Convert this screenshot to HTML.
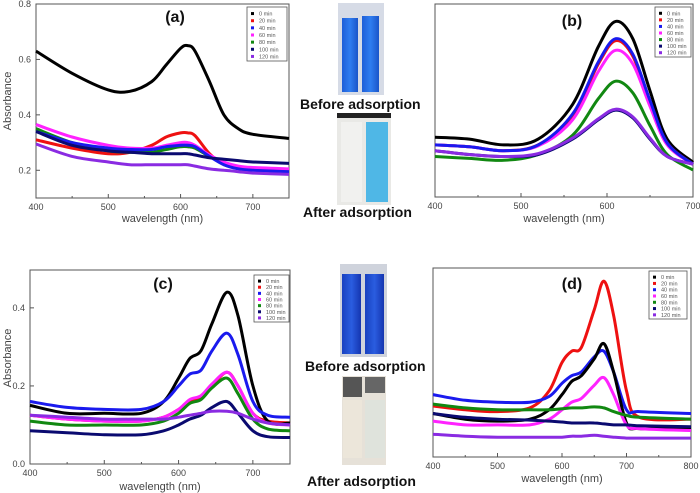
<!DOCTYPE html>
<html><head><meta charset="utf-8"><style>
body{margin:0;background:#fff;width:700px;height:493px;overflow:hidden;font-family:"Liberation Sans",sans-serif}
svg{position:absolute;left:0;top:0}
.cap{position:absolute;font-family:"Liberation Sans",sans-serif;font-weight:bold;font-size:14px;color:#111;white-space:nowrap}
</style></head><body>
<svg id="fig" width="700" height="493">
<defs>
<linearGradient id="blueL" x1="0" x2="1"><stop offset="0" stop-color="#1e5ed8"/><stop offset="0.5" stop-color="#2f7df0"/><stop offset="1" stop-color="#1b55c9"/></linearGradient>
<linearGradient id="blueD" x1="0" x2="1"><stop offset="0" stop-color="#1840c0"/><stop offset="0.5" stop-color="#2a5de0"/><stop offset="1" stop-color="#1535b0"/></linearGradient>
</defs>
<g>
<rect x="338" y="3" width="46" height="92" fill="#d6dbe6"/>
<rect x="342" y="18" width="16" height="74" fill="url(#blueL)"/>
<rect x="362" y="16" width="17" height="76" fill="url(#blueL)"/>
</g>
<g>
<rect x="337" y="113" width="54" height="92" fill="#e9e9e6"/>
<rect x="337" y="113" width="54" height="5" fill="#222"/>
<rect x="341" y="122" width="21" height="80" fill="#f1f1ef"/>
<rect x="366" y="122" width="22" height="80" fill="#4fb7e6"/>
</g>
<g>
<rect x="340" y="264" width="47" height="93" fill="#cfd3dc"/>
<rect x="342" y="274" width="19" height="80" fill="url(#blueD)"/>
<rect x="365" y="274" width="19" height="80" fill="url(#blueD)"/>
</g>
<g>
<rect x="342" y="376" width="44" height="89" fill="#e6e1d8"/>
<rect x="343" y="377" width="19" height="20" fill="#555"/>
<rect x="365" y="377" width="20" height="16" fill="#666"/>
<rect x="343" y="400" width="19" height="58" fill="#ece6da"/>
<rect x="365" y="400" width="20" height="58" fill="#dfe3dc"/>
</g>
<g id="plots"></g>
</svg>
<div class="cap" style="left:300px;top:96px">Before adsorption</div>
<div class="cap" style="left:303px;top:204px">After adsorption</div>
<div class="cap" style="left:305px;top:358px">Before adsorption</div>
<div class="cap" style="left:307px;top:473px">After adsorption</div>
<script>
const legendLabels=["0 min","20 min","40 min","60 min","80 min","100 min","120 min"];
const seriesColors=["#000000","#ee1111","#1a1aee","#ff22ff","#118811","#0a0a70","#8a2be2"];
// panel a
const wlA=[400,450,500,530,560,580,600,610,620,640,660,680,700,750];
const a0=[0.63,0.55,0.49,0.485,0.52,0.58,0.64,0.65,0.63,0.52,0.40,0.35,0.33,0.315];
const a20=[0.31,0.28,0.26,0.265,0.29,0.32,0.335,0.335,0.325,0.26,0.22,0.21,0.205,0.20];
const a40=[0.34,0.30,0.28,0.275,0.275,0.285,0.29,0.29,0.285,0.25,0.22,0.205,0.20,0.195];
const a60=[0.365,0.32,0.29,0.28,0.28,0.29,0.30,0.30,0.29,0.255,0.23,0.215,0.21,0.205];
const a80=[0.35,0.30,0.27,0.265,0.265,0.275,0.285,0.285,0.28,0.25,0.225,0.21,0.205,0.20];
const a100=[0.34,0.29,0.27,0.265,0.26,0.26,0.26,0.26,0.255,0.245,0.24,0.235,0.23,0.225];
const a120=[0.295,0.25,0.23,0.22,0.22,0.22,0.22,0.22,0.215,0.205,0.20,0.195,0.19,0.185];
const xTicksA=[400,500,600,700];
const yTicksA=[0.2,0.4,0.6,0.8];
// panel b
const wlB=[400,440,480,520,560,590,610,630,650,670,700];
const b0=[0.31,0.30,0.27,0.30,0.48,0.78,0.91,0.82,0.55,0.30,0.18];
const b20=[0.27,0.26,0.24,0.27,0.42,0.69,0.81,0.73,0.49,0.28,0.17];
const b40=[0.27,0.26,0.24,0.27,0.43,0.70,0.82,0.74,0.50,0.28,0.17];
const b60=[0.27,0.26,0.24,0.265,0.40,0.65,0.76,0.69,0.47,0.27,0.17];
const b80=[0.21,0.20,0.19,0.22,0.32,0.51,0.60,0.54,0.37,0.22,0.14];
const b100=[0.24,0.22,0.21,0.22,0.30,0.40,0.45,0.41,0.30,0.21,0.17];
const b120=[0.24,0.22,0.21,0.225,0.305,0.405,0.455,0.415,0.305,0.21,0.17];
const xTicksB=[400,500,600,700];
// panel c
const wlC=[400,450,500,550,580,600,615,630,645,665,680,700,720,750];
const c0=[0.15,0.13,0.13,0.13,0.16,0.22,0.27,0.29,0.36,0.44,0.38,0.20,0.11,0.105];
const c20=[0.125,0.115,0.11,0.11,0.12,0.14,0.16,0.17,0.20,0.235,0.20,0.13,0.11,0.105];
const c40=[0.16,0.145,0.14,0.14,0.16,0.20,0.23,0.24,0.29,0.335,0.28,0.16,0.125,0.12];
const c60=[0.125,0.115,0.11,0.11,0.12,0.14,0.165,0.175,0.205,0.235,0.20,0.13,0.105,0.10];
const c80=[0.11,0.10,0.10,0.10,0.11,0.13,0.155,0.165,0.195,0.22,0.18,0.115,0.09,0.085];
const c100=[0.085,0.08,0.075,0.075,0.085,0.10,0.115,0.125,0.145,0.16,0.13,0.085,0.07,0.068];
const c120=[0.125,0.12,0.115,0.115,0.115,0.12,0.125,0.13,0.135,0.135,0.13,0.115,0.105,0.10];
const xTicksC=[400,500,600,700];
const yTicksC=[0.0,0.2,0.4];
// panel d
const wlD=[400,450,500,550,580,600,615,630,650,665,680,700,720,800];
const d0=[0.23,0.20,0.19,0.20,0.25,0.33,0.40,0.43,0.52,0.60,0.45,0.18,0.15,0.15];
const d20=[0.27,0.25,0.24,0.26,0.35,0.50,0.56,0.58,0.78,0.93,0.75,0.35,0.21,0.20];
const d40=[0.33,0.30,0.29,0.29,0.32,0.39,0.43,0.45,0.53,0.56,0.45,0.25,0.24,0.23];
const d60=[0.19,0.17,0.17,0.17,0.20,0.25,0.29,0.31,0.38,0.42,0.33,0.17,0.15,0.14];
const d80=[0.28,0.26,0.25,0.25,0.25,0.255,0.26,0.26,0.265,0.26,0.24,0.22,0.21,0.20];
const d100=[0.23,0.21,0.20,0.195,0.19,0.185,0.18,0.18,0.18,0.175,0.17,0.17,0.165,0.16];
const d120=[0.12,0.11,0.105,0.105,0.105,0.105,0.11,0.11,0.115,0.11,0.105,0.10,0.10,0.10];
const xTicksD=[400,500,600,700,800];

const NS="http://www.w3.org/2000/svg";
const root=document.getElementById('plots');
function mk(tag,attrs,parent){const e=document.createElementNS(NS,tag);for(const k in attrs)e.setAttribute(k,attrs[k]);(parent||root).appendChild(e);return e;}
function smooth(pts){let d="M"+pts[0][0].toFixed(1)+","+pts[0][1].toFixed(1);
 for(let i=0;i<pts.length-1;i++){const p0=pts[i-1]||pts[i],p1=pts[i],p2=pts[i+1],p3=pts[i+2]||p2;
  const c1=[p1[0]+(p2[0]-p0[0])/6,p1[1]+(p2[1]-p0[1])/6],c2=[p2[0]-(p3[0]-p1[0])/6,p2[1]-(p3[1]-p1[1])/6];
  d+="C"+c1[0].toFixed(1)+","+c1[1].toFixed(1)+" "+c2[0].toFixed(1)+","+c2[1].toFixed(1)+" "+p2[0].toFixed(1)+","+p2[1].toFixed(1);}
 return d;}
function panel(o){
 const g=mk('g',{});
 
 
 const X=v=>o.x0+(v-o.xmin)/(o.xmax-o.xmin)*(o.x1-o.x0);
 const Y=v=>o.y1-(v-o.ymin)/(o.ymax-o.ymin)*(o.y1-o.y0);
 const fr=mk('rect',{x:o.x0,y:o.y0,width:o.x1-o.x0,height:o.y1-o.y0,fill:'none',stroke:'#555','stroke-width':1},g);
 
 
 o.xt.forEach((t,i)=>{const x=X(t);mk('line',{x1:x,x2:x,y1:o.y1,y2:o.y1-4,stroke:'#555'},g);
  if(i<o.xt.length-1){const xm=X(t+50);mk('line',{x1:xm,x2:xm,y1:o.y1,y2:o.y1-2,stroke:'#555'},g);}
  const tx=mk('text',{x:x,y:o.y1+12,'font-size':9,fill:'#444','text-anchor':'middle'},g);tx.textContent=t;
  
  });
 (o.yt||[]).forEach(t=>{const y=Y(t);mk('line',{x1:o.x0,x2:o.x0+4,y1:y,y2:y,stroke:'#555'},g);
  const tx=mk('text',{x:o.x0-5,y:y+3,'font-size':9,fill:'#444','text-anchor':'end'},g);tx.textContent=t.toFixed(1);
  
  });
 const xl=mk('text',{x:(o.x0+o.x1)/2,y:o.xly,'font-size':11,fill:'#444','text-anchor':'middle'},g);xl.textContent='wavelength (nm)';
 
 
 if(o.yl){const yl=mk('text',{x:0,y:0,'font-size':11,fill:'#444','text-anchor':'middle',transform:'translate(11,'+o.yl+') rotate(-90)'},g);yl.textContent='Absorbance';
  
  }
 o.order.forEach(k=>{const s=o.series[k];const pts=o.wl.map((w,i)=>[X(w),Y(s[i])]);
  const p=mk('path',{d:smooth(pts),fill:'none',stroke:seriesColors[k],'stroke-width':3,'stroke-linejoin':'round'},g);
  
  });
 const lb=mk('rect',{x:o.lg[0],y:o.lg[1],width:o.lg[2],height:o.lg[3],fill:'#fff',stroke:'#555','stroke-width':0.8},g);
 
 
 const step=(o.lg[3]-4)/7;
 legendLabels.forEach((l,i)=>{const y=o.lg[1]+3+step*(i+0.5);
  mk('rect',{x:o.lg[0]+4,y:y-1.5,width:3,height:3,fill:seriesColors[i]},g);
  const t=mk('text',{x:o.lg[0]+12,y:y+2,'font-size':5.5,fill:'#555'},g);t.textContent=l;
  
  });
 const tl=mk('text',{x:o.tl[0],y:o.tl[1],'font-size':16,'font-weight':'bold',fill:'#111','text-anchor':'middle'},g);tl.textContent='('+o.id+')';
 
 
}
panel({id:'a',x0:36,x1:289,y0:4,y1:198,xmin:400,xmax:750,ymin:0.1,ymax:0.8,xt:xTicksA,yt:yTicksA,xly:222,yl:101,
 wl:wlA,series:[a0,a20,a40,a60,a80,a100,a120],order:[0,1,4,3,2,5,6],lg:[247,7,40,54],tl:[175,22]});
panel({id:'b',x0:435,x1:693,y0:4,y1:197,xmin:400,xmax:700,ymin:0,ymax:1,xt:xTicksB,xly:222,
 wl:wlB,series:[b0,b20,b40,b60,b80,b100,b120],order:[0,1,3,2,4,5,6],lg:[655,7,36,50],tl:[572,26]});
panel({id:'c',x0:30,x1:290,y0:270,y1:464,xmin:400,xmax:750,ymin:0,ymax:0.497,xt:xTicksC,yt:yTicksC,xly:490,yl:358,
 wl:wlC,series:[c0,c20,c40,c60,c80,c100,c120],order:[1,0,2,3,4,5,6],lg:[254,275,35,47],tl:[163,289]});
panel({id:'d',x0:433,x1:691,y0:268,y1:457,xmin:400,xmax:800,ymin:0,ymax:1,xt:xTicksD,xly:482,
 wl:wlD,series:[d0,d20,d40,d60,d80,d100,d120],order:[1,2,0,3,4,5,6],lg:[649,271,38,48],tl:[572,289]});
</script>
</body></html>
